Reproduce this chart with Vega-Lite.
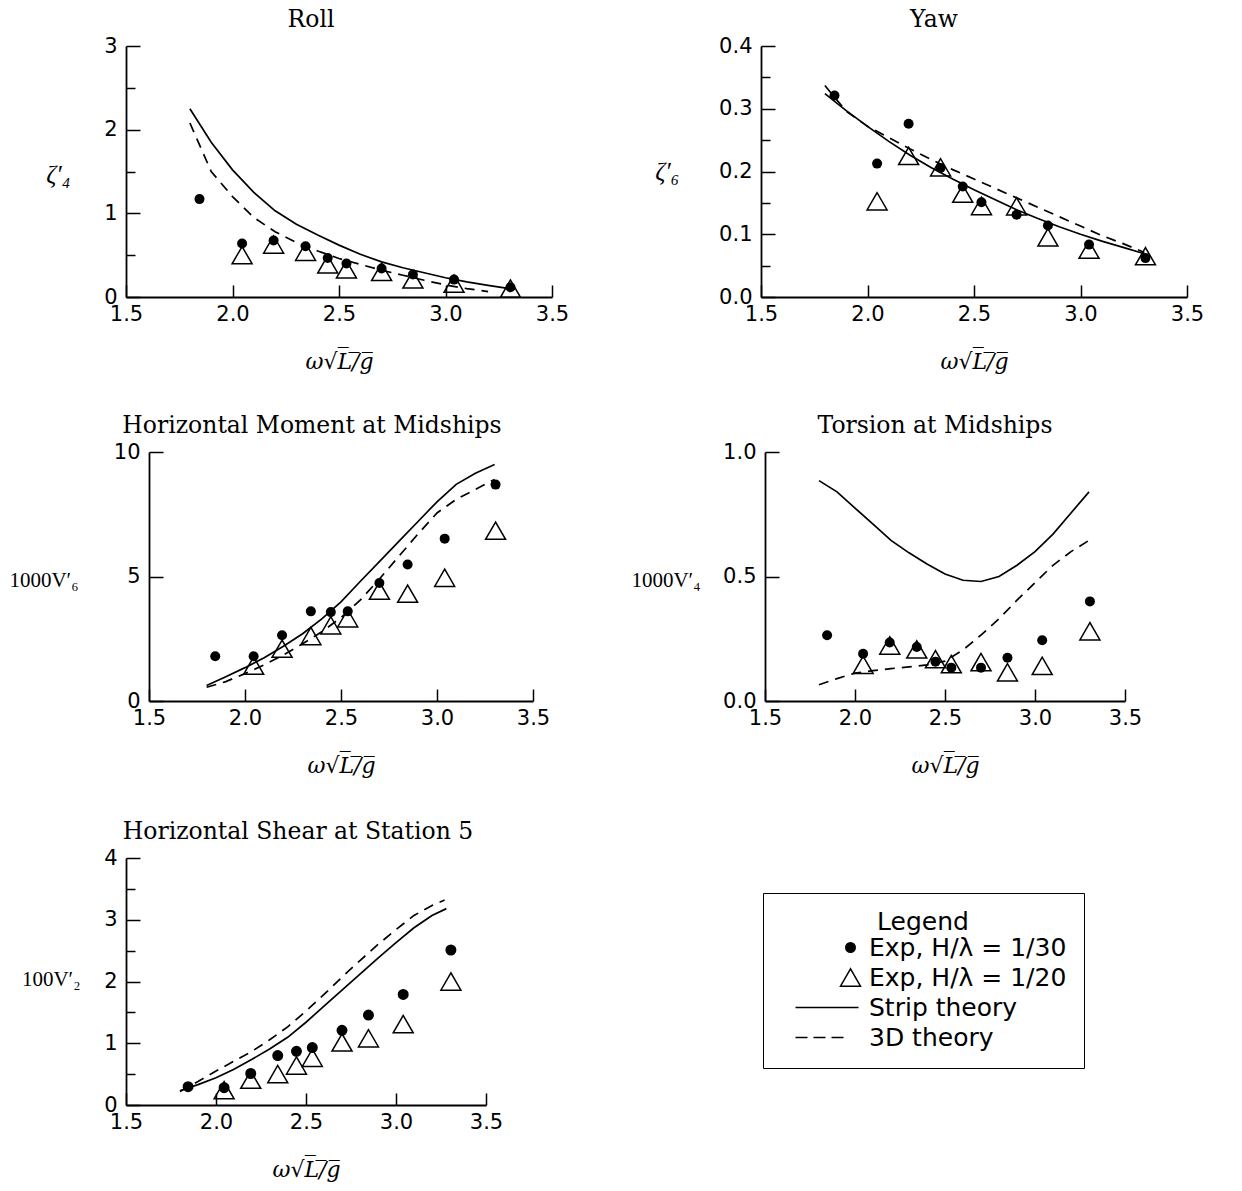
{
  "$schema": "https://vega.github.io/schema/vega-lite/v6.json",
  "padding": {"left": 8, "top": 7, "right": 5, "bottom": 5},
  "bounds": "flush",
  "spacing": 406,
  "resolve": {"scale": {"shape": "independent", "fill": "independent", "size": "independent"}},
  "config": {
    "view": {"stroke": null},
    "background": "white",
    "title": {"font": "DejaVu Serif", "fontSize": 23.5, "fontWeight": "normal", "color": "black", "anchor": "middle", "baseline": "alphabetic", "offset": 4},
    "axis": {"grid": false, "domainColor": "black", "domainWidth": 1.8, "tickColor": "black", "tickWidth": 1.5, "labelFont": "DejaVu Sans", "labelFontSize": 21, "labelColor": "black", "labelFlush": false, "labelOverlap": false, "titleColor": "black", "titleFontWeight": "normal"},
    "axisX": {"format": ".1f", "tickSize": -12, "labelPadding": 18, "titleFont": "DejaVu Serif", "titleFontStyle": "italic", "titleFontSize": 22, "titlePadding": 27},
    "axisY": {"tickSize": -14, "labelPadding": 23, "titleFont": "Liberation Serif", "titleFontSize": 21, "titleAngle": 0, "titleAlign": "right", "titleBaseline": "middle"}
  },
  "datasets": {
    "roll": [
      {"x": 1.845, "y": 1.17, "series": "e30"}, {"x": 2.045, "y": 0.64, "series": "e30"}, {"x": 2.193, "y": 0.675, "series": "e30"}, {"x": 2.343, "y": 0.606, "series": "e30"}, {"x": 2.447, "y": 0.467, "series": "e30"}, {"x": 2.535, "y": 0.40, "series": "e30"}, {"x": 2.70, "y": 0.34, "series": "e30"}, {"x": 2.847, "y": 0.268, "series": "e30"}, {"x": 3.04, "y": 0.208, "series": "e30"}, {"x": 3.305, "y": 0.116, "series": "e30"},
      {"x": 2.045, "y": 0.50, "series": "e20"}, {"x": 2.193, "y": 0.627, "series": "e20"}, {"x": 2.343, "y": 0.54, "series": "e20"}, {"x": 2.447, "y": 0.39, "series": "e20"}, {"x": 2.535, "y": 0.33, "series": "e20"}, {"x": 2.70, "y": 0.30, "series": "e20"}, {"x": 2.847, "y": 0.21, "series": "e20"}, {"x": 3.04, "y": 0.16, "series": "e20"}, {"x": 3.305, "y": 0.10, "series": "e20"},
      {"x": 1.8, "y": 2.25, "series": "strip"}, {"x": 1.9, "y": 1.85, "series": "strip"}, {"x": 2.0, "y": 1.52, "series": "strip"}, {"x": 2.1, "y": 1.25, "series": "strip"}, {"x": 2.2, "y": 1.03, "series": "strip"}, {"x": 2.3, "y": 0.87, "series": "strip"}, {"x": 2.4, "y": 0.74, "series": "strip"}, {"x": 2.5, "y": 0.62, "series": "strip"}, {"x": 2.6, "y": 0.51, "series": "strip"}, {"x": 2.7, "y": 0.42, "series": "strip"}, {"x": 2.8, "y": 0.35, "series": "strip"}, {"x": 2.9, "y": 0.29, "series": "strip"}, {"x": 3.0, "y": 0.23, "series": "strip"}, {"x": 3.1, "y": 0.18, "series": "strip"}, {"x": 3.2, "y": 0.14, "series": "strip"}, {"x": 3.3, "y": 0.10, "series": "strip"},
      {"x": 1.8, "y": 2.08, "series": "3d"}, {"x": 1.9, "y": 1.5, "series": "3d"}, {"x": 2.0, "y": 1.2, "series": "3d"}, {"x": 2.1, "y": 0.95, "series": "3d"}, {"x": 2.2, "y": 0.78, "series": "3d"}, {"x": 2.3, "y": 0.65, "series": "3d"}, {"x": 2.4, "y": 0.55, "series": "3d"}, {"x": 2.5, "y": 0.46, "series": "3d"}, {"x": 2.6, "y": 0.39, "series": "3d"}, {"x": 2.7, "y": 0.32, "series": "3d"}, {"x": 2.8, "y": 0.26, "series": "3d"}, {"x": 2.9, "y": 0.20, "series": "3d"}, {"x": 3.0, "y": 0.145, "series": "3d"}, {"x": 3.1, "y": 0.10, "series": "3d"}, {"x": 3.2, "y": 0.065, "series": "3d"}
    ],
    "yaw": [
      {"x": 1.845, "y": 0.321, "series": "e30"}, {"x": 2.045, "y": 0.2126, "series": "e30"}, {"x": 2.193, "y": 0.276, "series": "e30"}, {"x": 2.343, "y": 0.2056, "series": "e30"}, {"x": 2.447, "y": 0.176, "series": "e30"}, {"x": 2.535, "y": 0.151, "series": "e30"}, {"x": 2.70, "y": 0.131, "series": "e30"}, {"x": 2.847, "y": 0.114, "series": "e30"}, {"x": 3.04, "y": 0.0835, "series": "e30"}, {"x": 3.305, "y": 0.062, "series": "e30"},
      {"x": 2.045, "y": 0.1525, "series": "e20"}, {"x": 2.193, "y": 0.2248, "series": "e20"}, {"x": 2.343, "y": 0.2067, "series": "e20"}, {"x": 2.447, "y": 0.1647, "series": "e20"}, {"x": 2.535, "y": 0.145, "series": "e20"}, {"x": 2.70, "y": 0.1445, "series": "e20"}, {"x": 2.847, "y": 0.095, "series": "e20"}, {"x": 3.04, "y": 0.0755, "series": "e20"}, {"x": 3.305, "y": 0.065, "series": "e20"},
      {"x": 1.8, "y": 0.324, "series": "strip"}, {"x": 1.9, "y": 0.297, "series": "strip"}, {"x": 2.0, "y": 0.272, "series": "strip"}, {"x": 2.1, "y": 0.248, "series": "strip"}, {"x": 2.2, "y": 0.226, "series": "strip"}, {"x": 2.3, "y": 0.206, "series": "strip"}, {"x": 2.4, "y": 0.188, "series": "strip"}, {"x": 2.5, "y": 0.171, "series": "strip"}, {"x": 2.6, "y": 0.155, "series": "strip"}, {"x": 2.7, "y": 0.139, "series": "strip"}, {"x": 2.8, "y": 0.125, "series": "strip"}, {"x": 2.9, "y": 0.112, "series": "strip"}, {"x": 3.0, "y": 0.100, "series": "strip"}, {"x": 3.1, "y": 0.089, "series": "strip"}, {"x": 3.2, "y": 0.079, "series": "strip"}, {"x": 3.3, "y": 0.069, "series": "strip"},
      {"x": 1.8, "y": 0.337, "series": "3d"}, {"x": 1.9, "y": 0.296, "series": "3d"}, {"x": 2.0, "y": 0.272, "series": "3d"}, {"x": 2.1, "y": 0.254, "series": "3d"}, {"x": 2.2, "y": 0.236, "series": "3d"}, {"x": 2.3, "y": 0.219, "series": "3d"}, {"x": 2.4, "y": 0.203, "series": "3d"}, {"x": 2.5, "y": 0.188, "series": "3d"}, {"x": 2.6, "y": 0.173, "series": "3d"}, {"x": 2.7, "y": 0.158, "series": "3d"}, {"x": 2.8, "y": 0.143, "series": "3d"}, {"x": 2.9, "y": 0.128, "series": "3d"}, {"x": 3.0, "y": 0.113, "series": "3d"}, {"x": 3.1, "y": 0.098, "series": "3d"}, {"x": 3.2, "y": 0.085, "series": "3d"}, {"x": 3.3, "y": 0.071, "series": "3d"}
    ],
    "hm": [
      {"x": 1.845, "y": 1.80, "series": "e30"}, {"x": 2.045, "y": 1.80, "series": "e30"}, {"x": 2.193, "y": 2.64, "series": "e30"}, {"x": 2.343, "y": 3.60, "series": "e30"}, {"x": 2.447, "y": 3.57, "series": "e30"}, {"x": 2.535, "y": 3.60, "series": "e30"}, {"x": 2.70, "y": 4.74, "series": "e30"}, {"x": 2.847, "y": 5.48, "series": "e30"}, {"x": 3.04, "y": 6.52, "series": "e30"}, {"x": 3.305, "y": 8.69, "series": "e30"},
      {"x": 2.045, "y": 1.42, "series": "e20"}, {"x": 2.193, "y": 2.10, "series": "e20"}, {"x": 2.343, "y": 2.61, "series": "e20"}, {"x": 2.447, "y": 3.04, "series": "e20"}, {"x": 2.535, "y": 3.32, "series": "e20"}, {"x": 2.70, "y": 4.43, "series": "e20"}, {"x": 2.847, "y": 4.31, "series": "e20"}, {"x": 3.04, "y": 4.95, "series": "e20"}, {"x": 3.305, "y": 6.84, "series": "e20"},
      {"x": 1.8, "y": 0.62, "series": "strip"}, {"x": 1.9, "y": 0.97, "series": "strip"}, {"x": 2.0, "y": 1.34, "series": "strip"}, {"x": 2.1, "y": 1.74, "series": "strip"}, {"x": 2.2, "y": 2.2, "series": "strip"}, {"x": 2.3, "y": 2.7, "series": "strip"}, {"x": 2.4, "y": 3.3, "series": "strip"}, {"x": 2.5, "y": 3.98, "series": "strip"}, {"x": 2.6, "y": 4.8, "series": "strip"}, {"x": 2.7, "y": 5.6, "series": "strip"}, {"x": 2.8, "y": 6.4, "series": "strip"}, {"x": 2.9, "y": 7.2, "series": "strip"}, {"x": 3.0, "y": 8.0, "series": "strip"}, {"x": 3.1, "y": 8.7, "series": "strip"}, {"x": 3.2, "y": 9.15, "series": "strip"}, {"x": 3.3, "y": 9.5, "series": "strip"},
      {"x": 1.8, "y": 0.55, "series": "3d"}, {"x": 1.9, "y": 0.78, "series": "3d"}, {"x": 2.0, "y": 1.1, "series": "3d"}, {"x": 2.1, "y": 1.45, "series": "3d"}, {"x": 2.2, "y": 1.85, "series": "3d"}, {"x": 2.3, "y": 2.3, "series": "3d"}, {"x": 2.4, "y": 2.78, "series": "3d"}, {"x": 2.5, "y": 3.35, "series": "3d"}, {"x": 2.6, "y": 4.05, "series": "3d"}, {"x": 2.7, "y": 4.9, "series": "3d"}, {"x": 2.8, "y": 5.8, "series": "3d"}, {"x": 2.9, "y": 6.7, "series": "3d"}, {"x": 3.0, "y": 7.55, "series": "3d"}, {"x": 3.1, "y": 8.1, "series": "3d"}, {"x": 3.2, "y": 8.5, "series": "3d"}, {"x": 3.3, "y": 8.9, "series": "3d"}
    ],
    "tor": [
      {"x": 1.845, "y": 0.264, "series": "e30"}, {"x": 2.045, "y": 0.19, "series": "e30"}, {"x": 2.193, "y": 0.235, "series": "e30"}, {"x": 2.343, "y": 0.217, "series": "e30"}, {"x": 2.447, "y": 0.158, "series": "e30"}, {"x": 2.535, "y": 0.134, "series": "e30"}, {"x": 2.70, "y": 0.134, "series": "e30"}, {"x": 2.847, "y": 0.174, "series": "e30"}, {"x": 3.04, "y": 0.244, "series": "e30"}, {"x": 3.305, "y": 0.40, "series": "e30"},
      {"x": 2.045, "y": 0.145, "series": "e20"}, {"x": 2.193, "y": 0.223, "series": "e20"}, {"x": 2.343, "y": 0.207, "series": "e20"}, {"x": 2.447, "y": 0.168, "series": "e20"}, {"x": 2.535, "y": 0.148, "series": "e20"}, {"x": 2.70, "y": 0.156, "series": "e20"}, {"x": 2.847, "y": 0.115, "series": "e20"}, {"x": 3.04, "y": 0.141, "series": "e20"}, {"x": 3.305, "y": 0.28, "series": "e20"},
      {"x": 1.8, "y": 0.885, "series": "strip"}, {"x": 1.9, "y": 0.84, "series": "strip"}, {"x": 2.0, "y": 0.775, "series": "strip"}, {"x": 2.1, "y": 0.71, "series": "strip"}, {"x": 2.2, "y": 0.645, "series": "strip"}, {"x": 2.3, "y": 0.595, "series": "strip"}, {"x": 2.4, "y": 0.55, "series": "strip"}, {"x": 2.5, "y": 0.51, "series": "strip"}, {"x": 2.6, "y": 0.485, "series": "strip"}, {"x": 2.7, "y": 0.48, "series": "strip"}, {"x": 2.8, "y": 0.50, "series": "strip"}, {"x": 2.9, "y": 0.545, "series": "strip"}, {"x": 3.0, "y": 0.60, "series": "strip"}, {"x": 3.1, "y": 0.67, "series": "strip"}, {"x": 3.2, "y": 0.755, "series": "strip"}, {"x": 3.3, "y": 0.84, "series": "strip"},
      {"x": 1.8, "y": 0.065, "series": "3d"}, {"x": 1.9, "y": 0.09, "series": "3d"}, {"x": 2.0, "y": 0.112, "series": "3d"}, {"x": 2.1, "y": 0.122, "series": "3d"}, {"x": 2.2, "y": 0.13, "series": "3d"}, {"x": 2.3, "y": 0.137, "series": "3d"}, {"x": 2.4, "y": 0.145, "series": "3d"}, {"x": 2.5, "y": 0.16, "series": "3d"}, {"x": 2.6, "y": 0.205, "series": "3d"}, {"x": 2.7, "y": 0.265, "series": "3d"}, {"x": 2.8, "y": 0.33, "series": "3d"}, {"x": 2.9, "y": 0.405, "series": "3d"}, {"x": 3.0, "y": 0.475, "series": "3d"}, {"x": 3.1, "y": 0.545, "series": "3d"}, {"x": 3.2, "y": 0.60, "series": "3d"}, {"x": 3.3, "y": 0.645, "series": "3d"}
    ],
    "shear": [
      {"x": 1.845, "y": 0.296, "series": "e30"}, {"x": 2.045, "y": 0.28, "series": "e30"}, {"x": 2.193, "y": 0.51, "series": "e30"}, {"x": 2.343, "y": 0.80, "series": "e30"}, {"x": 2.447, "y": 0.87, "series": "e30"}, {"x": 2.535, "y": 0.93, "series": "e30"}, {"x": 2.70, "y": 1.21, "series": "e30"}, {"x": 2.847, "y": 1.456, "series": "e30"}, {"x": 3.04, "y": 1.79, "series": "e30"}, {"x": 3.305, "y": 2.51, "series": "e30"},
      {"x": 2.045, "y": 0.24, "series": "e20"}, {"x": 2.193, "y": 0.41, "series": "e20"}, {"x": 2.343, "y": 0.50, "series": "e20"}, {"x": 2.447, "y": 0.64, "series": "e20"}, {"x": 2.535, "y": 0.765, "series": "e20"}, {"x": 2.70, "y": 1.013, "series": "e20"}, {"x": 2.847, "y": 1.08, "series": "e20"}, {"x": 3.04, "y": 1.31, "series": "e20"}, {"x": 3.305, "y": 2.0, "series": "e20"},
      {"x": 1.8, "y": 0.23, "series": "strip"}, {"x": 1.9, "y": 0.33, "series": "strip"}, {"x": 2.0, "y": 0.44, "series": "strip"}, {"x": 2.1, "y": 0.58, "series": "strip"}, {"x": 2.2, "y": 0.74, "series": "strip"}, {"x": 2.3, "y": 0.91, "series": "strip"}, {"x": 2.4, "y": 1.1, "series": "strip"}, {"x": 2.5, "y": 1.34, "series": "strip"}, {"x": 2.6, "y": 1.6, "series": "strip"}, {"x": 2.7, "y": 1.86, "series": "strip"}, {"x": 2.8, "y": 2.12, "series": "strip"}, {"x": 2.9, "y": 2.38, "series": "strip"}, {"x": 3.0, "y": 2.63, "series": "strip"}, {"x": 3.1, "y": 2.87, "series": "strip"}, {"x": 3.2, "y": 3.07, "series": "strip"}, {"x": 3.28, "y": 3.18, "series": "strip"},
      {"x": 1.8, "y": 0.22, "series": "3d"}, {"x": 1.9, "y": 0.38, "series": "3d"}, {"x": 2.0, "y": 0.55, "series": "3d"}, {"x": 2.1, "y": 0.71, "series": "3d"}, {"x": 2.2, "y": 0.87, "series": "3d"}, {"x": 2.3, "y": 1.06, "series": "3d"}, {"x": 2.4, "y": 1.27, "series": "3d"}, {"x": 2.5, "y": 1.52, "series": "3d"}, {"x": 2.6, "y": 1.79, "series": "3d"}, {"x": 2.7, "y": 2.07, "series": "3d"}, {"x": 2.8, "y": 2.34, "series": "3d"}, {"x": 2.9, "y": 2.6, "series": "3d"}, {"x": 3.0, "y": 2.84, "series": "3d"}, {"x": 3.1, "y": 3.07, "series": "3d"}, {"x": 3.2, "y": 3.23, "series": "3d"}, {"x": 3.27, "y": 3.32, "series": "3d"}
    ]
  },
  "vconcat": [
    {
      "hconcat": [
        {
          "title": {"text": "Roll", "dx": -28},
          "width": 426, "height": 251,
          "data": {"name": "roll"},
          "encoding": {
            "x": {"field": "x", "type": "quantitative", "scale": {"domain": [1.5, 3.5], "nice": false, "zero": false}, "axis": {"title": "ω√L̅/̅g̅", "values": [1.5, 2, 2.5, 3, 3.5]}}
          },
          "resolve": {"axis": {"y": "independent"}},
          "layer": [
            {"transform": [{"filter": "datum.series === 'strip'"}], "mark": {"type": "line", "color": "black", "strokeWidth": 1.7},
             "encoding": {"y": {"field": "y", "type": "quantitative", "scale": {"domain": [0, 3], "nice": false}, "axis": {"orient": "left", "title": "ζ′₄", "titleFontStyle": "italic", "titleFontSize": 25, "titleX": -56, "titleY": 128, "values": [0, 1, 2, 3], "format": "d"}}}},
            {"transform": [{"filter": "datum.series === '3d'"}], "mark": {"type": "line", "color": "black", "strokeWidth": 1.7, "strokeDash": [10, 7]},
             "encoding": {"y": {"field": "y", "type": "quantitative", "scale": {"domain": [0, 3], "nice": false}, "axis": {"orient": "left", "title": null, "values": [0.5, 1.5, 2.5], "labels": false, "domain": false, "tickSize": -9}}}},
            {"transform": [{"filter": "datum.series === 'e20'"}], "mark": {"type": "point", "shape": "triangle-up", "filled": false, "stroke": "black", "strokeWidth": 1.5, "size": 400, "opacity": 1},
             "encoding": {"y": {"field": "y", "type": "quantitative", "scale": {"domain": [0, 3], "nice": false}, "axis": null}}},
            {"transform": [{"filter": "datum.series === 'e30'"}], "mark": {"type": "point", "shape": "circle", "filled": true, "fill": "black", "size": 100, "opacity": 1},
             "encoding": {"y": {"field": "y", "type": "quantitative", "scale": {"domain": [0, 3], "nice": false}, "axis": null}}}
          ]
        },
        {
          "title": {"text": "Yaw", "dx": -40},
          "width": 426, "height": 251,
          "data": {"name": "yaw"},
          "encoding": {
            "x": {"field": "x", "type": "quantitative", "scale": {"domain": [1.5, 3.5], "nice": false, "zero": false}, "axis": {"title": "ω√L̅/̅g̅", "values": [1.5, 2, 2.5, 3, 3.5]}}
          },
          "resolve": {"axis": {"y": "independent"}},
          "layer": [
            {"transform": [{"filter": "datum.series === 'strip'"}], "mark": {"type": "line", "color": "black", "strokeWidth": 1.7},
             "encoding": {"y": {"field": "y", "type": "quantitative", "scale": {"domain": [0, 0.4], "nice": false}, "axis": {"orient": "left", "title": "ζ′₆", "titleFontStyle": "italic", "titleFontSize": 25, "titleX": -82, "titleY": 125, "values": [0, 0.1, 0.2, 0.3, 0.4], "format": ".1f"}}}},
            {"transform": [{"filter": "datum.series === '3d'"}], "mark": {"type": "line", "color": "black", "strokeWidth": 1.7, "strokeDash": [10, 7]},
             "encoding": {"y": {"field": "y", "type": "quantitative", "scale": {"domain": [0, 0.4], "nice": false}, "axis": {"orient": "left", "title": null, "values": [0.05, 0.15, 0.25, 0.35], "labels": false, "domain": false, "tickSize": -9}}}},
            {"transform": [{"filter": "datum.series === 'e20'"}], "mark": {"type": "point", "shape": "triangle-up", "filled": false, "stroke": "black", "strokeWidth": 1.5, "size": 400, "opacity": 1},
             "encoding": {"y": {"field": "y", "type": "quantitative", "scale": {"domain": [0, 0.4], "nice": false}, "axis": null}}},
            {"transform": [{"filter": "datum.series === 'e30'"}], "mark": {"type": "point", "shape": "circle", "filled": true, "fill": "black", "size": 100, "opacity": 1},
             "encoding": {"y": {"field": "y", "type": "quantitative", "scale": {"domain": [0, 0.4], "nice": false}, "axis": null}}}
          ]
        }
      ],
      "spacing": 209,
      "bounds": "flush"
    },
    {
      "hconcat": [
        {
          "hconcat": [
            {"width": 23, "height": 249, "data": {"values": [{"x": 0}]}, "mark": {"type": "point", "opacity": 0}},
            {
              "title": {"text": "Horizontal Moment at Midships", "dx": -29},
              "width": 384, "height": 249,
              "data": {"name": "hm"},
              "encoding": {
                "x": {"field": "x", "type": "quantitative", "scale": {"domain": [1.5, 3.5], "nice": false, "zero": false}, "axis": {"title": "ω√L̅/̅g̅", "values": [1.5, 2, 2.5, 3, 3.5]}},
                "y": {"field": "y", "type": "quantitative", "scale": {"domain": [0, 10], "nice": false}, "axis": {"title": "1000V′₆", "titleX": -71, "titleY": 128, "values": [0, 5, 10], "format": "d"}}
              },
              "layer": [
                {"transform": [{"filter": "datum.series === 'strip'"}], "mark": {"type": "line", "color": "black", "strokeWidth": 1.7}},
                {"transform": [{"filter": "datum.series === '3d'"}], "mark": {"type": "line", "color": "black", "strokeWidth": 1.7, "strokeDash": [10, 7]}},
                {"transform": [{"filter": "datum.series === 'e20'"}], "mark": {"type": "point", "shape": "triangle-up", "filled": false, "stroke": "black", "strokeWidth": 1.5, "size": 400, "opacity": 1}},
                {"transform": [{"filter": "datum.series === 'e30'"}], "mark": {"type": "point", "shape": "circle", "filled": true, "fill": "black", "size": 100, "opacity": 1}}
              ]
            }
          ],
          "spacing": 0,
          "bounds": "flush"
        },
        {
          "title": {"text": "Torsion at Midships", "dx": -10},
          "width": 360, "height": 249,
          "data": {"name": "tor"},
          "encoding": {
            "x": {"field": "x", "type": "quantitative", "scale": {"domain": [1.5, 3.5], "nice": false, "zero": false}, "axis": {"title": "ω√L̅/̅g̅", "values": [1.5, 2, 2.5, 3, 3.5]}},
            "y": {"field": "y", "type": "quantitative", "scale": {"domain": [0, 1], "nice": false}, "axis": {"title": "1000V′₄", "titleX": -65, "titleY": 128, "values": [0, 0.5, 1], "format": ".1f"}}
          },
          "layer": [
            {"transform": [{"filter": "datum.series === 'strip'"}], "mark": {"type": "line", "color": "black", "strokeWidth": 1.7}},
            {"transform": [{"filter": "datum.series === '3d'"}], "mark": {"type": "line", "color": "black", "strokeWidth": 1.7, "strokeDash": [10, 7]}},
            {"transform": [{"filter": "datum.series === 'e20'"}], "mark": {"type": "point", "shape": "triangle-up", "filled": false, "stroke": "black", "strokeWidth": 1.5, "size": 400, "opacity": 1}},
            {"transform": [{"filter": "datum.series === 'e30'"}], "mark": {"type": "point", "shape": "circle", "filled": true, "fill": "black", "size": 100, "opacity": 1}}
          ]
        }
      ],
      "spacing": 639,
      "bounds": "flush"
    },
    {
      "title": {"text": "Horizontal Shear at Station 5", "dx": -8},
      "width": 360, "height": 247,
      "data": {"name": "shear"},
      "encoding": {
        "x": {"field": "x", "type": "quantitative", "scale": {"domain": [1.5, 3.5], "nice": false, "zero": false}, "axis": {"title": "ω√L̅/̅g̅", "values": [1.5, 2, 2.5, 3, 3.5]}}
      },
      "resolve": {"axis": {"y": "independent"}},
      "layer": [
        {"transform": [{"filter": "datum.series === 'strip'"}], "mark": {"type": "line", "color": "black", "strokeWidth": 1.7},
         "encoding": {"y": {"field": "y", "type": "quantitative", "scale": {"domain": [0, 4], "nice": false}, "axis": {"orient": "left", "title": "100V′₂", "titleX": -46, "titleY": 121, "values": [0, 1, 2, 3, 4], "format": "d"}}}},
        {"transform": [{"filter": "datum.series === '3d'"}], "mark": {"type": "line", "color": "black", "strokeWidth": 1.7, "strokeDash": [10, 7]},
         "encoding": {"y": {"field": "y", "type": "quantitative", "scale": {"domain": [0, 4], "nice": false}, "axis": {"orient": "left", "title": null, "values": [0.5, 1.5, 2.5, 3.5], "labels": false, "domain": false, "tickSize": -9}}}},
        {
          "transform": [{"filter": "datum.series === 'e20' || datum.series === 'e30'"}],
          "mark": {"type": "point", "stroke": "black", "strokeWidth": 1.5, "opacity": 1},
          "encoding": {
            "y": {"field": "y", "type": "quantitative", "scale": {"domain": [0, 4], "nice": false}, "axis": null},
            "shape": {"field": "series", "type": "nominal", "scale": {"domain": ["e30", "e20", "strip", "3d"], "range": ["circle", "triangle-up", "M-5.5,0H0.8", "M-5.5,0H-4.3M-3.7,0H-2.5M-1.9,0H-0.7"]},
              "legend": {"orient": "none", "legendX": 637, "legendY": 35, "title": "Legend", "titleAnchor": "middle", "titleFont": "DejaVu Sans", "titleFontSize": 25, "titleFontWeight": "normal", "titleColor": "black", "titlePadding": 0, "labelFont": "DejaVu Sans", "labelFontSize": 25, "labelColor": "black", "labelLimit": 600, "labelOffset": 6, "symbolOffset": 58, "rowPadding": 4, "padding": 17, "strokeColor": "black", "fillColor": "white", "symbolStrokeColor": "black", "symbolStrokeWidth": 1.5,
                "labelExpr": "datum.value === 'e30' ? 'Exp, H/λ = 1/30' : datum.value === 'e20' ? 'Exp, H/λ = 1/20' : datum.value === 'strip' ? 'Strip theory' : '3D theory'"}},
            "fill": {"field": "series", "type": "nominal", "scale": {"domain": ["e30", "e20", "strip", "3d"], "range": ["black", "transparent", "transparent", "transparent"]}},
            "size": {"field": "series", "type": "nominal", "scale": {"type": "ordinal", "domain": ["e30", "e20", "strip", "3d"], "range": [90, 400, 400, 400]}}
          }
        }
      ]
    }
  ]
}
